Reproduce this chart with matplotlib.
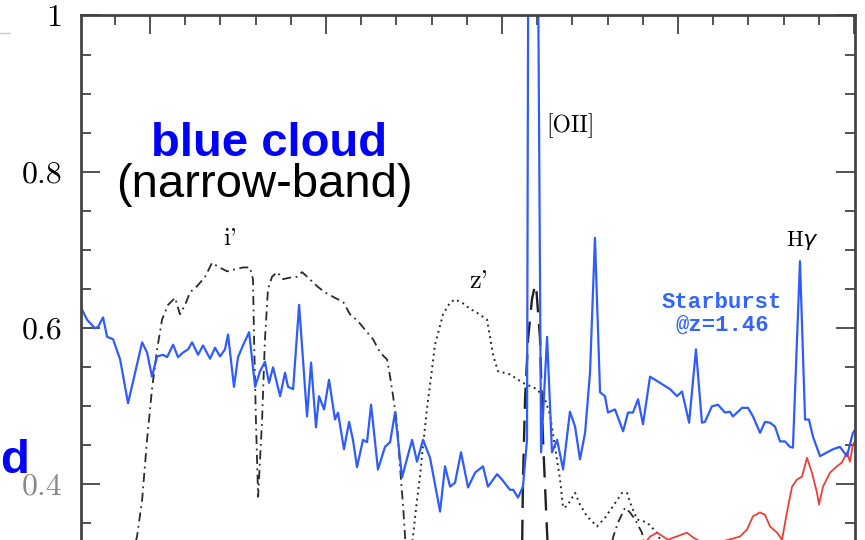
import matplotlib.pyplot as plt
from matplotlib.lines import Line2D
from matplotlib.ticker import MultipleLocator

# starburst template at z=1.46 (observed wavelength in Angstrom, normalised flux)
blue_wave = [6605, 6642, 6687, 6705, 6733, 6756, 6790, 6830, 6875, 6915, 6955, 6983,
             7011, 7040, 7074, 7097, 7131, 7159, 7188, 7216, 7239, 7273, 7301, 7341,
             7369, 7398, 7426, 7443, 7477, 7500, 7528, 7563, 7597, 7625, 7653, 7676,
             7699, 7739, 7767, 7784, 7813, 7847, 7892, 7915, 7943, 7960, 7989, 8017,
             8051, 8068, 8102, 8131, 8153, 8176, 8210, 8233, 8256, 8295, 8335, 8364,
             8392, 8432, 8489, 8517, 8551, 8591, 8648, 8676, 8705, 8733, 8767, 8807,
             8847, 8892, 8920, 8972, 9000, 9045, 9063, 9091, 9119, 9142, 9165, 9222,
             9256, 9284, 9313, 9347, 9386, 9415, 9443, 9472, 9500, 9528, 9557, 9585,
             9602, 9642, 9688, 9716, 9744, 9773, 9801, 9841, 9898, 9955, 9994, 10023,
             10063, 10102, 10136, 10153, 10193, 10227, 10267, 10295, 10312, 10364, 10398, 10426,
             10466, 10494, 10523, 10551, 10580, 10608, 10636, 10653, 10693, 10722, 10744, 10767,
             10807, 10847, 10881, 10920, 10960, 10994, 11011]
blue_flux = [0.627, 0.610, 0.599, 0.601, 0.613, 0.588, 0.585, 0.559, 0.503, 0.542, 0.581, 0.568,
             0.537, 0.563, 0.565, 0.562, 0.578, 0.562, 0.568, 0.572, 0.581, 0.565, 0.577, 0.560,
             0.574, 0.563, 0.572, 0.591, 0.524, 0.562, 0.577, 0.594, 0.524, 0.544, 0.556, 0.529,
             0.549, 0.512, 0.542, 0.524, 0.521, 0.629, 0.486, 0.555, 0.472, 0.512, 0.495, 0.533,
             0.482, 0.491, 0.444, 0.479, 0.456, 0.421, 0.456, 0.453, 0.501, 0.418, 0.447, 0.453,
             0.491, 0.408, 0.456, 0.428, 0.456, 0.433, 0.364, 0.422, 0.396, 0.401, 0.440, 0.395,
             0.414, 0.422, 0.396, 0.412, 0.405, 0.392, 0.392, 0.382, 0.396, 0.456, 2.5, 0.440,
             0.588, 0.440, 0.456, 0.418, 0.492, 0.473, 0.431, 0.465, 0.542, 0.715, 0.517, 0.512,
             0.491, 0.495, 0.467, 0.491, 0.491, 0.508, 0.476, 0.537, 0.529, 0.521, 0.512, 0.518,
             0.478, 0.572, 0.478, 0.479, 0.499, 0.501, 0.491, 0.492, 0.486, 0.497, 0.497, 0.486,
             0.465, 0.479, 0.478, 0.473, 0.454, 0.454, 0.447, 0.446, 0.685, 0.482, 0.482, 0.460,
             0.435, 0.440, 0.444, 0.447, 0.435, 0.465, 0.470]

# red (passive) template
red_wave = [9784, 9841, 9881, 9943, 10051, 10085, 10153, 10239, 10352, 10392, 10426, 10466,
            10494, 10523, 10563, 10591, 10619, 10648, 10676, 10705, 10733, 10761, 10790, 10801,
            10824, 10864, 10903, 10932, 10960, 10977, 10994, 11011]
red_flux = [0.315, 0.332, 0.337, 0.328, 0.337, 0.331, 0.322, 0.325, 0.332, 0.341, 0.358, 0.363,
            0.360, 0.345, 0.337, 0.328, 0.363, 0.396, 0.405, 0.409, 0.433, 0.414, 0.388, 0.373,
            0.396, 0.414, 0.422, 0.427, 0.440, 0.428, 0.450, 0.456]

# i' filter (with red leak), z' filter, narrow-band filter
i_wave = [6915, 6926, 6955, 6983, 7011, 7040, 7068, 7102, 7142, 7170, 7199, 7227, 7267, 7313,
          7352, 7386, 7438, 7472, 7528, 7568, 7585, 7591, 7602, 7614, 7636, 7653, 7670, 7693,
          7722, 7756, 7795, 7835, 7864, 7898, 7949, 7994, 8051, 8097, 8136, 8182, 8233, 8267,
          8307, 8347, 8364, 8381, 8403, 8420, 8438, 8449, 8455,
          float('nan'), 9619, 9631, 9659, 9699, 9727, 9756, 9795, 9807]
i_trans = [0.322, 0.332, 0.379, 0.456, 0.521, 0.572, 0.610, 0.629, 0.638, 0.617, 0.629, 0.645,
           0.653, 0.665, 0.683, 0.678, 0.672, 0.674, 0.677, 0.677, 0.662, 0.585, 0.478, 0.383,
           0.478, 0.585, 0.649, 0.665, 0.671, 0.662, 0.664, 0.665, 0.671, 0.664, 0.653, 0.645,
           0.638, 0.633, 0.617, 0.608, 0.594, 0.585, 0.568, 0.559, 0.537, 0.512, 0.478, 0.422,
           0.371, 0.332, 0.315,
           float('nan'), 0.315, 0.331, 0.350, 0.369, 0.363, 0.354, 0.337, 0.322]
z_wave = [8483, 8494, 8517, 8534, 8545, 8574, 8602, 8619, 8665, 8705, 8733, 8778, 8818, 8858,
          8915, 8949, 8977, 9045, 9119, 9199, 9244, 9273, 9301, 9330, 9347, 9369, 9415, 9443,
          9483, 9540, 9585, 9631, 9682, 9710, 9727, 9767, 9824, 9881, 9909]
z_trans = [0.315, 0.332, 0.379, 0.409, 0.435, 0.497, 0.546, 0.578, 0.617, 0.632, 0.636, 0.631,
           0.624, 0.619, 0.610, 0.565, 0.544, 0.540, 0.529, 0.521, 0.508, 0.488, 0.447, 0.405,
           0.369, 0.371, 0.388, 0.373, 0.358, 0.345, 0.356, 0.371, 0.388, 0.388, 0.376, 0.354,
           0.350, 0.337, 0.322]
nb_wave = [9114, 9119, 9131, 9148, 9170, 9188, 9193, 9216, 9233, 9256, 9261]
nb_trans = [0.315, 0.405, 0.508, 0.585, 0.636, 0.655, 0.655, 0.585, 0.456, 0.337, 0.315]

fig = plt.figure(figsize=(8.65, 5.40), dpi=100)
ax = fig.add_axes([0.0931, 0.0, 0.8954, 0.9713])

ax.plot(i_wave, i_trans, color='#2a2a2a', lw=1.3, ls=(0, (5, 2.5, 1, 2.5)))
ax.plot(z_wave, z_trans, color='#2a2a2a', lw=1.4, ls=(0, (1, 2)))
ax.plot(nb_wave, nb_trans, color='#222222', lw=1.7, ls=(0, (9, 5)))
ax.plot(red_wave, red_flux, color='#e8403a', lw=1.3)
ax.plot(blue_wave, blue_flux, color='#2f5cff', lw=1.6)

ax.set_xlim(6605, 11006)
ax.set_ylim(0.3276, 1.0)

ax.xaxis.set_major_locator(MultipleLocator(1000))
ax.xaxis.set_minor_locator(MultipleLocator(200))
ax.set_yticks([0.4, 0.6, 0.8, 1.0])
ax.set_yticklabels(['0.4', '0.6', '0.8', '1'], fontfamily='cmr10', fontsize=23)
ax.yaxis.set_minor_locator(MultipleLocator(0.05))
ax.get_yticklabels()[0].set_color('#8a8a8a')

ax.tick_params(which='both', direction='in', top=True, right=True, bottom=False,
               labelbottom=False, labelleft=True, color='#444444', width=1.3, pad=13)
ax.tick_params(which='major', length=14)
ax.tick_params(which='minor', length=7)
for side in ['left', 'right', 'top']:
    ax.spines[side].set_linewidth(2)
    ax.spines[side].set_color('#444444')
ax.spines['bottom'].set_visible(False)

# line and filter labels
ax.text(7455, 0.713, "i'", fontfamily='cmr10', fontsize=18, ha='center', va='center')
ax.text(8869, 0.659, "z'", fontfamily='cmr10', fontsize=19, ha='center', va='center')
ax.text(9386, 0.859, "[OII]", fontfamily='cmr10', fontsize=17, ha='center', va='center')
ax.text(10705, 0.712, r"H$\gamma$", fontfamily='cmr10', fontsize=16, ha='center', va='center')
ax.text(10250, 0.632, "Starburst", fontfamily='Liberation Mono', fontweight='bold',
        fontsize=16, color='#3366ff', ha='center', va='center')
ax.text(10250, 0.603, "@z=1.46", fontfamily='Liberation Mono', fontweight='bold',
        fontsize=16, color='#3366ff', ha='center', va='center')

# panel titles
fig.text(0.3116, 0.7111, "blue cloud", fontfamily='Liberation Sans', fontweight='bold',
         fontsize=34, color='#0000ff', ha='center', va='baseline')
fig.text(0.3052, 0.6352, "(narrow-band)", fontfamily='Liberation Sans',
         fontsize=34, color='black', ha='center', va='baseline')
fig.text(0.0, 0.1241, "d", fontfamily='Liberation Sans', fontweight='bold',
         fontsize=34, color='#0000ff', ha='left', va='baseline')

fig.add_artist(Line2D([0, 0.01], [1 - 33 / 540] * 2, color='#c8c8c8', lw=1))

fig.savefig('out.png', dpi=100)
